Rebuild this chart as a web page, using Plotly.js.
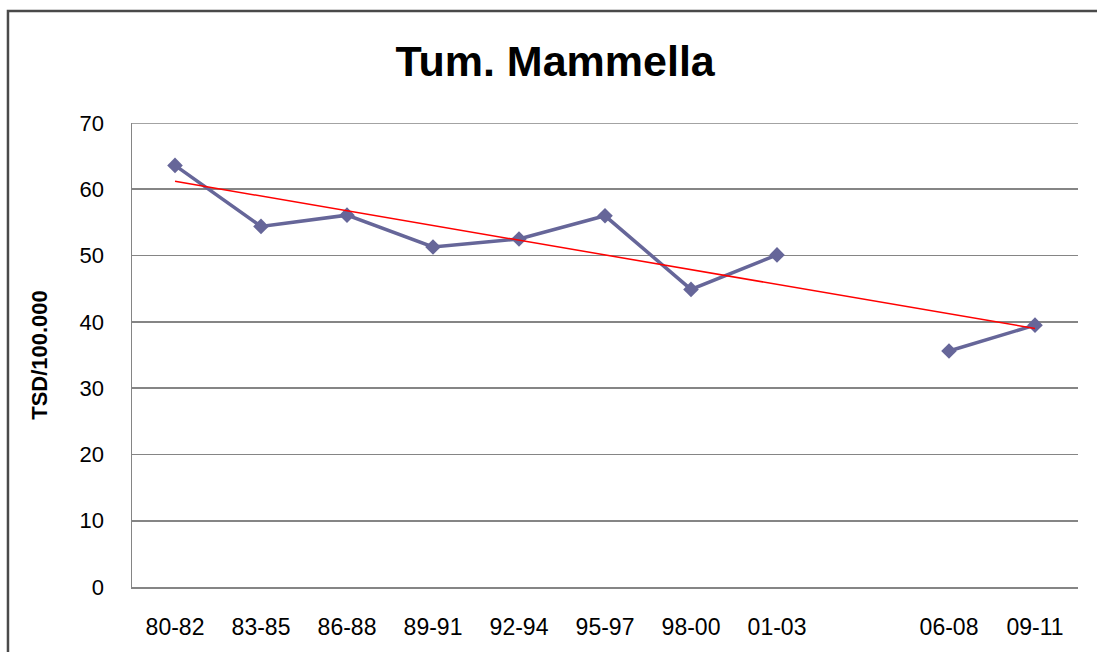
<!DOCTYPE html>
<html>
<head>
<meta charset="utf-8">
<script src="https://cdn.plot.ly/plotly-3.0.1.min.js"></script>
<style>
  html, body { margin: 0; padding: 0; background: #ffffff; }
  #chart { width: 1097px; height: 652px; }
</style>
</head>
<body>
<div id="chart"></div>
<script>
// Data
const categories = ['80-82', '83-85', '86-88', '89-91', '92-94', '95-97', '98-00', '01-03', '04-05', '06-08', '09-11'];
const tickLabels = ['80-82', '83-85', '86-88', '89-91', '92-94', '95-97', '98-00', '01-03', '', '06-08', '09-11'];
const tsdValues = [63.6, 54.4, 56.1, 51.3, 52.5, 56.0, 44.9, 50.1, null, 35.6, 39.5];
const trendCategories = ['80-82', '09-11'];
const trendValues = [61.2, 39.0];
const yTicks = [0, 10, 20, 30, 40, 50, 60, 70];

const font = 'Liberation Sans, Arial, sans-serif';
const gridColor = '#858585';
const yMax = yTicks[yTicks.length - 1];

const traces = [
  {
    type: 'scatter',
    mode: 'lines+markers',
    x: categories,
    y: tsdValues,
    connectgaps: false,
    line: { color: '#666699', width: 3.5 },
    marker: { symbol: 'diamond', size: 12, color: '#666699' },
    hoverinfo: 'x+y',
    showlegend: false
  },
  {
    type: 'scatter',
    mode: 'lines',
    x: trendCategories,
    y: trendValues,
    line: { color: '#ff0000', width: 1.5 },
    hoverinfo: 'skip',
    showlegend: false
  }
];

const layout = {
  width: 1097,
  height: 652,
  margin: { l: 132, r: 19, t: 123, b: 65 },
  paper_bgcolor: '#ffffff',
  plot_bgcolor: '#ffffff',
  font: { family: font, color: '#000000' },
  title: {
    text: '<b>Tum. Mammella</b>',
    font: { family: font, size: 43, color: '#000000' },
    x: 0.506,
    xref: 'container',
    xanchor: 'center',
    y: 0.906,
    yref: 'container',
    yanchor: 'middle'
  },
  xaxis: {
    type: 'category',
    categoryorder: 'array',
    categoryarray: categories,
    tickvals: categories,
    ticktext: tickLabels,
    range: [-0.5, categories.length - 0.5],
    showgrid: false,
    showline: true,
    linecolor: gridColor,
    linewidth: 1.5,
    ticks: '',
    ticklabelstandoff: 19,
    tickfont: { family: font, size: 23, color: '#000000' },
    zeroline: false,
    fixedrange: true
  },
  yaxis: {
    range: [0, yMax],
    tickvals: yTicks,
    showgrid: true,
    gridcolor: gridColor,
    gridwidth: 1.6,
    showline: true,
    linecolor: gridColor,
    linewidth: 1.5,
    zeroline: false,
    ticks: '',
    ticklabelstandoff: 22,
    tickfont: { family: font, size: 22, color: '#000000' },
    title: {
      text: '<b>TSD/100.000</b>',
      font: { family: font, size: 22, color: '#000000' },
      standoff: 26
    },
    automargin: false,
    fixedrange: true
  },
  shapes: [
    {
      // top gridline (at the maximum tick) that Plotly omits at the range edge
      type: 'line',
      xref: 'paper', yref: 'y',
      x0: 0, x1: 1,
      y0: yMax, y1: yMax,
      line: { color: gridColor, width: 1.6 },
      layer: 'below'
    },
    {
      type: 'rect',
      xref: 'paper', yref: 'paper',
      x0: -0.1311, x1: 1.2,
      y0: -0.3, y1: 1.2414,
      line: { color: '#4a4a4a', width: 2.5 },
      fillcolor: 'rgba(0,0,0,0)',
      layer: 'above'
    }
  ]
};

Plotly.newPlot('chart', traces, layout, { displayModeBar: false, staticPlot: true });
</script>
</body>
</html>
